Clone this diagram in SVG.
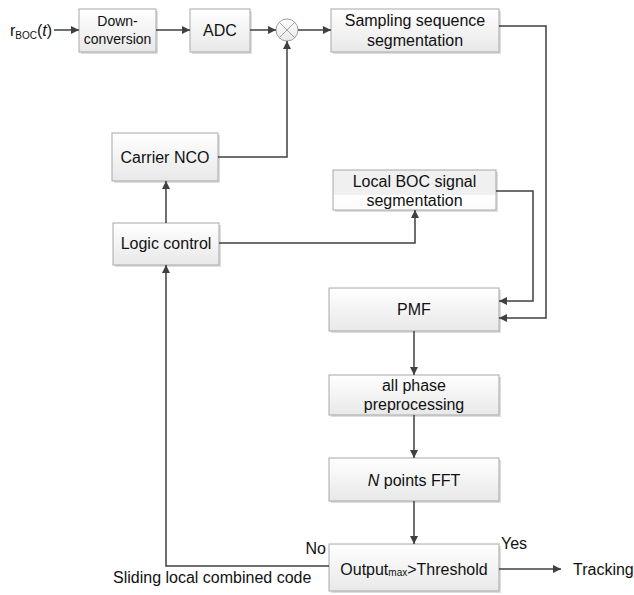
<svg xmlns="http://www.w3.org/2000/svg" width="634" height="595" viewBox="0 0 634 595">
<style>
  text { font-family: "Liberation Sans", Arial, sans-serif; font-size: 16px; fill: #111; }
  .c { text-anchor: middle; }
  .sm { font-size: 14px; }
  .sub { font-size: 10px; }
  .box { fill: url(#g); stroke: #a8a8a8; stroke-width: 1; }
  .shadow { fill: #dedede; }
  .wire { fill: none; stroke: #404040; stroke-width: 1.5; }
  .arr { marker-end: url(#ah); }
</style>
<defs>
  <linearGradient id="g" x1="0" y1="0" x2="0" y2="1">
    <stop offset="0" stop-color="#ffffff"/>
    <stop offset="1" stop-color="#e8e8e8"/>
  </linearGradient>
  <linearGradient id="gb" x1="0" y1="0" x2="0" y2="1">
    <stop offset="0" stop-color="#f0f0f0"/>
    <stop offset="0.62" stop-color="#f0f0f0"/>
    <stop offset="0.62" stop-color="#ffffff"/>
    <stop offset="1" stop-color="#fbfbfb"/>
  </linearGradient>
  <marker id="ah" viewBox="0 0 10 10" refX="10" refY="5" markerWidth="10" markerHeight="8" orient="auto" markerUnits="userSpaceOnUse">
    <path d="M0,0 L10,5 L0,10 z" fill="#404040"/>
  </marker>
</defs>
<rect width="634" height="595" fill="#ffffff"/>

<g id="input">
  <text x="10" y="36">r<tspan class="sub" dy="3">BOC</tspan><tspan dy="-3">(</tspan><tspan font-style="italic">t</tspan>)</text>
</g>

<g id="downconversion">
  <rect class="shadow" x="81" y="11" width="77" height="43"/>
  <rect class="box" x="79" y="9" width="77" height="43"/>
  <text class="c sm" x="117.5" y="26">Down-</text>
  <text class="c sm" x="117.5" y="44">conversion</text>
</g>

<g id="adc">
  <rect class="shadow" x="192" y="11" width="60" height="43"/>
  <rect class="box" x="190" y="9" width="60" height="43"/>
  <text class="c" x="220" y="36">ADC</text>
</g>

<g id="mixer">
  <circle cx="287" cy="30" r="11" fill="url(#g)" stroke="#a0a0a0" stroke-width="1"/>
  <path d="M279.2,22.2 L294.8,37.8 M294.8,22.2 L279.2,37.8" stroke="#a0a0a0" stroke-width="1" fill="none"/>
</g>

<g id="sampling">
  <rect class="shadow" x="333" y="11" width="168" height="43"/>
  <rect class="box" x="331" y="9" width="168" height="43"/>
  <text class="c" x="415" y="26">Sampling sequence</text>
  <text class="c" x="415" y="46">segmentation</text>
</g>

<g id="carrier-nco">
  <rect class="shadow" x="114" y="135" width="106" height="48"/>
  <rect class="box" x="112" y="133" width="106" height="48"/>
  <text class="c" x="165" y="163">Carrier NCO</text>
</g>

<g id="local-boc">
  <rect class="shadow" x="335" y="172" width="163" height="40"/>
  <rect x="333" y="170" width="163" height="40" fill="url(#gb)" stroke="#a8a8a8" stroke-width="1"/>
  <text class="c" x="414.5" y="187">Local BOC signal</text>
  <text class="c" x="414.5" y="206">segmentation</text>
</g>

<g id="logic-control">
  <rect class="shadow" x="115" y="225" width="106" height="42"/>
  <rect class="box" x="113" y="223" width="106" height="42"/>
  <text class="c" x="166" y="249">Logic control</text>
</g>

<g id="pmf">
  <rect class="shadow" x="331" y="290" width="170" height="43"/>
  <rect class="box" x="329" y="288" width="170" height="43"/>
  <text class="c" x="414" y="315">PMF</text>
</g>

<g id="all-phase">
  <rect class="shadow" x="331" y="377" width="170" height="40"/>
  <rect class="box" x="329" y="375" width="170" height="40"/>
  <text class="c" x="414" y="391">all phase</text>
  <text class="c" x="414" y="410">preprocessing</text>
</g>

<g id="fft">
  <rect class="shadow" x="331" y="460" width="170" height="43"/>
  <rect class="box" x="329" y="458" width="170" height="43"/>
  <text class="c" x="414" y="486"><tspan font-style="italic">N</tspan> points FFT</text>
</g>

<g id="threshold">
  <rect class="shadow" x="331" y="546" width="170" height="47"/>
  <rect class="box" x="329" y="544" width="170" height="47"/>
  <text class="c" x="414" y="575">Output<tspan class="sub" dy="1">max</tspan><tspan dy="-1">&gt;Threshold</tspan></text>
</g>

<g id="labels">
  <text x="501" y="549">Yes</text>
  <text x="326" y="554" text-anchor="end">No</text>
  <text x="573" y="575">Tracking</text>
  <text x="113" y="583">Sliding local combined code</text>
</g>

<g id="connectors">
  <path class="wire arr" d="M54,30 H79"/>
  <path class="wire arr" d="M156,30 H190"/>
  <path class="wire arr" d="M250,30 H276"/>
  <path class="wire arr" d="M298,30 H331"/>
  <path class="wire arr" d="M499,26 H546 V318 H499"/>
  <path class="wire arr" d="M496,191 H533 V301 H499"/>
  <path class="wire arr" d="M218,157 H287 V41"/>
  <path class="wire arr" d="M166,223 V181"/>
  <path class="wire arr" d="M219,243 H415 V210"/>
  <path class="wire arr" d="M414,331 V375"/>
  <path class="wire arr" d="M414,415 V458"/>
  <path class="wire arr" d="M414,501 V544"/>
  <path class="wire arr" d="M499,569 H561"/>
  <path class="wire arr" d="M329,566 H166 V265"/>
</g>
</svg>
